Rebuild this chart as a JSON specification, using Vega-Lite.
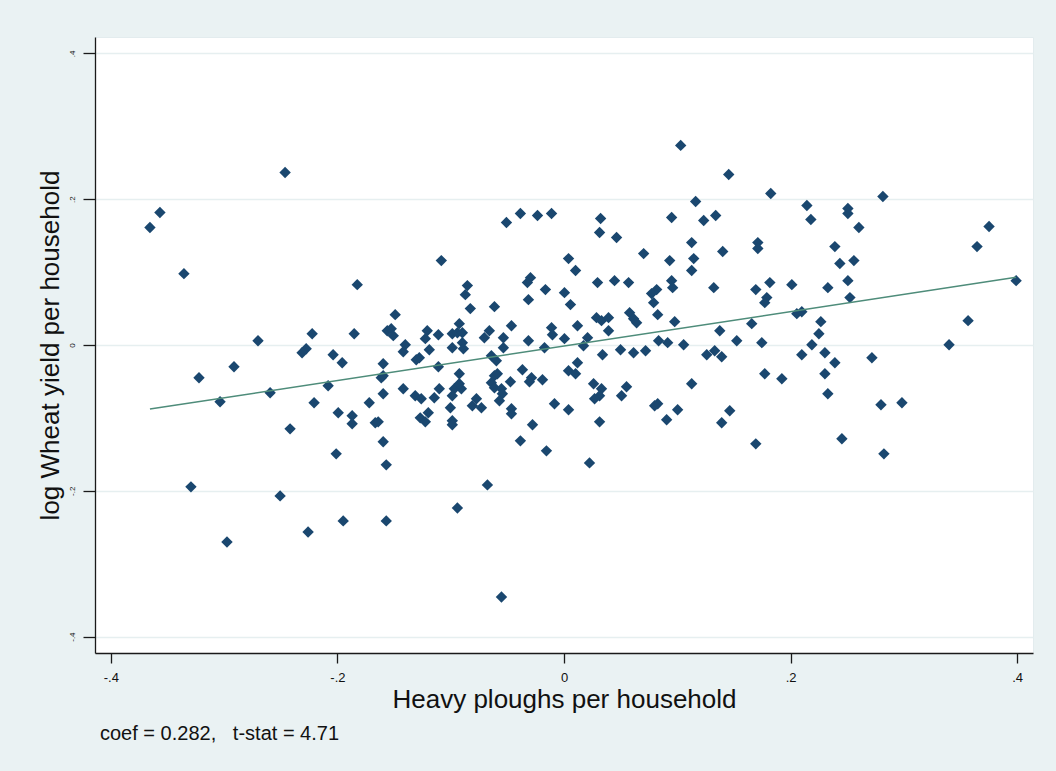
{
  "$schema": "https://vega.github.io/schema/vega-lite/v6.json",
  "width": 938,
  "height": 616,
  "autosize": {"type": "none"},
  "padding": {"left": 95, "top": 37, "right": 23, "bottom": 118},
  "background": "#EAF2F3",
  "config": {
    "font": "Liberation Sans",
    "view": {"fill": "#FFFFFF", "stroke": "#E3ECEE", "strokeWidth": 1}
  },
  "title": {
    "text": "coef = 0.282,\u00a0\u00a0 t-stat = 4.71",
    "orient": "bottom",
    "anchor": "start",
    "frame": "group",
    "fontSize": 20,
    "fontWeight": "normal",
    "color": "#111111",
    "offset": 12,
    "dx": 5
  },
  "datasets": {
    "pts": [
      {"x": -0.2462, "y": 0.2367}, {"x": -0.3567, "y": 0.1817}, {"x": -0.3655, "y": 0.1611}, {"x": -0.3355, "y": 0.0979},
      {"x": -0.1825, "y": 0.0828}, {"x": -0.1490, "y": 0.0416}, {"x": -0.2223, "y": 0.0155}, {"x": -0.1852, "y": 0.0155},
      {"x": -0.1560, "y": 0.0196}, {"x": -0.1525, "y": 0.0224}, {"x": -0.1507, "y": 0.0128}, {"x": -0.2701, "y": 0.0059},
      {"x": -0.2276, "y": -0.0051}, {"x": -0.2312, "y": -0.0106}, {"x": -0.2038, "y": -0.0133}, {"x": -0.1958, "y": -0.0243},
      {"x": -0.1401, "y": 0.0004}, {"x": -0.1419, "y": -0.0092}, {"x": -0.1207, "y": 0.0196}, {"x": -0.1224, "y": 0.0087},
      {"x": -0.1189, "y": -0.0065}, {"x": -0.1277, "y": -0.0174}, {"x": -0.1304, "y": -0.0202}, {"x": -0.1596, "y": -0.0257},
      {"x": -0.2913, "y": -0.0298}, {"x": -0.3222, "y": -0.0449}, {"x": -0.1613, "y": -0.0449},
      {"x": 0.1030, "y": 0.2738}, {"x": 0.1454, "y": 0.2339}, {"x": 0.1162, "y": 0.1968}, {"x": -0.0385, "y": 0.1804},
      {"x": -0.0234, "y": 0.1776}, {"x": -0.0110, "y": 0.1804}, {"x": -0.0508, "y": 0.1680}, {"x": 0.0323, "y": 0.1735},
      {"x": 0.0950, "y": 0.1749}, {"x": 0.1339, "y": 0.1776}, {"x": 0.1233, "y": 0.1707}, {"x": 0.0314, "y": 0.1543},
      {"x": 0.0464, "y": 0.1474}, {"x": 0.1127, "y": 0.1405}, {"x": -0.1083, "y": 0.1158}, {"x": 0.0040, "y": 0.1185},
      {"x": 0.0102, "y": 0.1021}, {"x": 0.0703, "y": 0.1254}, {"x": 0.0933, "y": 0.1158}, {"x": 0.1145, "y": 0.1185},
      {"x": 0.1127, "y": 0.1021}, {"x": 0.1401, "y": 0.1282}, {"x": -0.0296, "y": 0.0924}, {"x": -0.0323, "y": 0.0856},
      {"x": -0.0853, "y": 0.0815}, {"x": -0.0871, "y": 0.0691}, {"x": -0.0827, "y": 0.0499}, {"x": -0.0614, "y": 0.0526},
      {"x": -0.0314, "y": 0.0622}, {"x": -0.0164, "y": 0.0760}, {"x": 0.0004, "y": 0.0718}, {"x": 0.0057, "y": 0.0554},
      {"x": 0.0296, "y": 0.0856}, {"x": 0.0446, "y": 0.0883}, {"x": 0.0570, "y": 0.0856}, {"x": 0.0950, "y": 0.0883},
      {"x": 0.0959, "y": 0.0787}, {"x": 0.1322, "y": 0.0787}, {"x": 0.0818, "y": 0.0760}, {"x": 0.0773, "y": 0.0705},
      {"x": 0.0791, "y": 0.0581}, {"x": 0.0827, "y": 0.0416}, {"x": 0.0579, "y": 0.0444}, {"x": 0.0614, "y": 0.0361},
      {"x": 0.0641, "y": 0.0306}, {"x": 0.0287, "y": 0.0375}, {"x": 0.0331, "y": 0.0334}, {"x": 0.0393, "y": 0.0375},
      {"x": 0.0393, "y": 0.0196}, {"x": 0.0977, "y": 0.0320}, {"x": 0.1375, "y": 0.0196}, {"x": -0.0924, "y": 0.0293},
      {"x": -0.0986, "y": 0.0155}, {"x": -0.0941, "y": 0.0169}, {"x": -0.0897, "y": 0.0169}, {"x": -0.0897, "y": 0.0032},
      {"x": -0.0888, "y": -0.0051}, {"x": -0.0986, "y": -0.0037}, {"x": -0.1109, "y": 0.0141}, {"x": -0.0703, "y": 0.0100},
      {"x": -0.0659, "y": 0.0196}, {"x": -0.0535, "y": 0.0100}, {"x": -0.0535, "y": -0.0037}, {"x": -0.0464, "y": 0.0265},
      {"x": -0.0314, "y": 0.0059}, {"x": -0.0110, "y": 0.0238}, {"x": -0.0102, "y": 0.0141}, {"x": 0.0004, "y": 0.0087},
      {"x": 0.0119, "y": 0.0265}, {"x": 0.0208, "y": 0.0100}, {"x": 0.0172, "y": -0.0010}, {"x": -0.0172, "y": -0.0037},
      {"x": 0.0340, "y": -0.0133}, {"x": 0.0499, "y": -0.0065}, {"x": 0.0614, "y": -0.0106}, {"x": 0.0720, "y": -0.0078},
      {"x": 0.0835, "y": 0.0059}, {"x": 0.0915, "y": 0.0032}, {"x": 0.1056, "y": 0.0004}, {"x": 0.1260, "y": -0.0133},
      {"x": 0.1330, "y": -0.0078}, {"x": 0.1392, "y": -0.0161}, {"x": -0.0641, "y": -0.0147}, {"x": -0.0597, "y": -0.0216},
      {"x": -0.1109, "y": -0.0298}, {"x": -0.0924, "y": -0.0394}, {"x": -0.0614, "y": -0.0422}, {"x": -0.0588, "y": -0.0394},
      {"x": -0.0367, "y": -0.0339}, {"x": 0.0040, "y": -0.0353}, {"x": 0.0102, "y": -0.0394}, {"x": 0.0119, "y": -0.0243},
      {"x": -0.0473, "y": -0.0504}, {"x": -0.0287, "y": -0.0449}, {"x": -0.0190, "y": -0.0477}, {"x": 0.0261, "y": -0.0532},
      {"x": 0.1127, "y": -0.0532},
      {"x": 0.1825, "y": 0.2078}, {"x": 0.2815, "y": 0.2037}, {"x": 0.2144, "y": 0.1913}, {"x": 0.2179, "y": 0.1721},
      {"x": 0.2506, "y": 0.1872}, {"x": 0.2506, "y": 0.1804}, {"x": 0.2603, "y": 0.1611}, {"x": 0.1711, "y": 0.1405},
      {"x": 0.1711, "y": 0.1323}, {"x": 0.2391, "y": 0.1350}, {"x": 0.3752, "y": 0.1625}, {"x": 0.3646, "y": 0.1350},
      {"x": 0.2435, "y": 0.1117}, {"x": 0.2559, "y": 0.1158}, {"x": 0.1817, "y": 0.0856}, {"x": 0.2011, "y": 0.0828},
      {"x": 0.1693, "y": 0.0760}, {"x": 0.2329, "y": 0.0787}, {"x": 0.2506, "y": 0.0883}, {"x": 0.3991, "y": 0.0883},
      {"x": 0.1790, "y": 0.0650}, {"x": 0.1772, "y": 0.0581}, {"x": 0.2524, "y": 0.0650}, {"x": 0.2055, "y": 0.0430},
      {"x": 0.2099, "y": 0.0457}, {"x": 0.1657, "y": 0.0293}, {"x": 0.2267, "y": 0.0320}, {"x": 0.2250, "y": 0.0155},
      {"x": 0.3567, "y": 0.0334}, {"x": 0.1525, "y": 0.0059}, {"x": 0.1746, "y": 0.0032}, {"x": 0.2188, "y": 0.0004},
      {"x": 0.3399, "y": 0.0004}, {"x": 0.2099, "y": -0.0133}, {"x": 0.2303, "y": -0.0106}, {"x": 0.2391, "y": -0.0243},
      {"x": 0.2718, "y": -0.0174}, {"x": 0.1772, "y": -0.0394}, {"x": 0.1923, "y": -0.0463}, {"x": 0.2303, "y": -0.0394},
      {"x": 0.2329, "y": -0.0669}, {"x": 0.2798, "y": -0.0820}, {"x": 0.2983, "y": -0.0793}, {"x": 0.1463, "y": -0.0902},
      {"x": 0.1693, "y": -0.1356}, {"x": 0.2453, "y": -0.1287}, {"x": 0.2824, "y": -0.1493},
      {"x": -0.3036, "y": -0.0779}, {"x": -0.2594, "y": -0.0655}, {"x": -0.2082, "y": -0.0559}, {"x": -0.2206, "y": -0.0793},
      {"x": -0.1596, "y": -0.0422}, {"x": -0.1596, "y": -0.0669}, {"x": -0.1719, "y": -0.0793}, {"x": -0.1419, "y": -0.0600},
      {"x": -0.1313, "y": -0.0696}, {"x": -0.1260, "y": -0.0738}, {"x": -0.1993, "y": -0.0930}, {"x": -0.1870, "y": -0.0971},
      {"x": -0.1870, "y": -0.1081}, {"x": -0.1666, "y": -0.1067}, {"x": -0.1640, "y": -0.1054}, {"x": -0.1269, "y": -0.0999},
      {"x": -0.1224, "y": -0.1054}, {"x": -0.1198, "y": -0.0930}, {"x": -0.2418, "y": -0.1150}, {"x": -0.1596, "y": -0.1328},
      {"x": -0.2011, "y": -0.1493}, {"x": -0.1569, "y": -0.1644}, {"x": -0.3293, "y": -0.1946}, {"x": -0.2506, "y": -0.2070},
      {"x": -0.1949, "y": -0.2413}, {"x": -0.1569, "y": -0.2413}, {"x": -0.2259, "y": -0.2565}, {"x": -0.2975, "y": -0.2702},
      {"x": -0.0641, "y": -0.0518}, {"x": -0.0614, "y": -0.0587}, {"x": -0.0552, "y": -0.0600}, {"x": -0.0544, "y": -0.0669},
      {"x": -0.0305, "y": -0.0504}, {"x": 0.0331, "y": -0.0600}, {"x": 0.0314, "y": -0.0696}, {"x": 0.0270, "y": -0.0738},
      {"x": 0.0552, "y": -0.0573}, {"x": 0.0508, "y": -0.0696}, {"x": -0.1101, "y": -0.0600}, {"x": -0.1145, "y": -0.0724},
      {"x": -0.0968, "y": -0.0600}, {"x": -0.0986, "y": -0.0696}, {"x": -0.0906, "y": -0.0600}, {"x": -0.0924, "y": -0.0532},
      {"x": -0.0773, "y": -0.0738}, {"x": -0.0809, "y": -0.0834}, {"x": -0.0729, "y": -0.0861}, {"x": -0.1003, "y": -0.0861},
      {"x": -0.0986, "y": -0.1040}, {"x": -0.0986, "y": -0.1095}, {"x": -0.0570, "y": -0.0765}, {"x": -0.0464, "y": -0.0875},
      {"x": -0.0464, "y": -0.0944}, {"x": -0.0084, "y": -0.0806}, {"x": 0.0040, "y": -0.0889}, {"x": 0.0314, "y": -0.1054},
      {"x": -0.0278, "y": -0.1095}, {"x": 0.0827, "y": -0.0806}, {"x": 0.0800, "y": -0.0834}, {"x": 0.1003, "y": -0.0889},
      {"x": 0.0906, "y": -0.1026}, {"x": 0.1392, "y": -0.1067}, {"x": -0.0385, "y": -0.1315}, {"x": -0.0155, "y": -0.1452},
      {"x": 0.0225, "y": -0.1617}, {"x": -0.0676, "y": -0.1919}, {"x": -0.0941, "y": -0.2235}, {"x": -0.0552, "y": -0.3457}
    ],
    "fit": [
      {"x": -0.3655, "y": -0.0879},
      {"x": 0.3991, "y": 0.0929}
    ]
  },
  "layer": [
    {
      "data": {"name": "pts"},
      "mark": {"type": "point", "shape": "diamond", "filled": true, "size": 130, "color": "#1A476F", "opacity": 1, "strokeWidth": 0},
      "encoding": {
        "x": {
          "field": "x", "type": "quantitative",
          "scale": {"domain": [-0.414, 0.414], "nice": false, "zero": false},
          "axis": {
            "values": [-0.4, -0.2, 0, 0.2, 0.4],
            "labelExpr": "datum.value == 0 ? '0' : (datum.value < 0 ? '-' : '') + '.' + format(abs(datum.value) * 10, 'd')",
            "grid": false,
            "domainColor": "#1a1a1a", "domainWidth": 1.3,
            "tickColor": "#1a1a1a", "tickWidth": 1.3, "tickSize": 10,
            "labelFontSize": 13, "labelColor": "#111111", "labelPadding": 8,
            "title": "Heavy ploughs per household",
            "titleFontSize": 26, "titleFontWeight": "normal", "titleColor": "#111111",
            "titleBaseline": "alphabetic", "titleY": 54
          }
        },
        "y": {
          "field": "y", "type": "quantitative",
          "scale": {"domain": [-0.4225, 0.4225], "nice": false, "zero": false},
          "axis": {
            "values": [-0.4, -0.2, 0, 0.2, 0.4],
            "labelExpr": "datum.value == 0 ? '0' : (datum.value < 0 ? '-' : '') + '.' + format(abs(datum.value) * 10, 'd')",
            "grid": true, "gridColor": "#E6EFF0", "gridWidth": 1.5,
            "domainColor": "#1a1a1a", "domainWidth": 1.3,
            "tickColor": "#1a1a1a", "tickWidth": 1.3, "tickSize": 12,
            "labelFontSize": 8, "labelColor": "#111111", "labelAngle": -90,
            "labelAlign": "center", "labelBaseline": "middle", "labelPadding": 11,
            "title": "log Wheat yield per household",
            "titleFontSize": 26, "titleFontWeight": "normal", "titleColor": "#111111",
            "titleAngle": -90, "titleBaseline": "alphabetic", "titleX": -37
          }
        }
      }
    },
    {
      "data": {"name": "fit"},
      "mark": {"type": "line", "color": "#4E8C7A", "strokeWidth": 1.5},
      "encoding": {
        "x": {"field": "x", "type": "quantitative"},
        "y": {"field": "y", "type": "quantitative"}
      }
    }
  ]
}
